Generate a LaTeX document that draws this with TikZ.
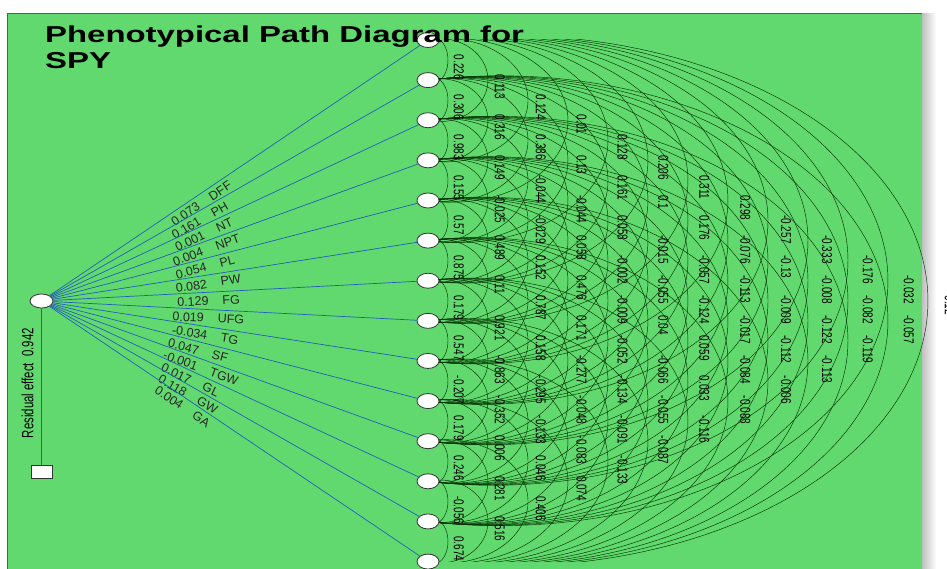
\documentclass[tikz,border=0pt]{standalone}
\usepackage{fontspec}
\setmainfont{Liberation Sans}
\usetikzlibrary{shapes.geometric}
\pgfdeclarelayer{back}
\pgfdeclarelayer{arcs}
\pgfsetlayers{back,arcs,main}
\definecolor{bggreen}{RGB}{98,217,110}
\definecolor{pathblue}{RGB}{35,95,185}
\definecolor{framegray}{RGB}{90,90,90}
\newcommand{\corrcol}[2]{%
  \foreach \v [count=\i] in {#2} {%
    \node[corr] (c#1x\i) at ({418+40.9*#1},{40+40.12*(\i-1)+20.06*#1-5.5}) {\scalebox{1}[1.43]{\v}};
  }}
\begin{document}
\begin{tikzpicture}[x=1pt,y=-1pt,
  rnode/.style={ellipse,draw=black!80,fill=white,line width=0.8pt,minimum width=22pt,minimum height=15pt,inner sep=0pt},
  lnode/.style={ellipse,draw=black!80,fill=white,line width=0.8pt,minimum width=23pt,minimum height=14pt,inner sep=0pt},
  sqnode/.style={rectangle,draw=black!80,fill=white,line width=0.8pt,minimum width=21pt,minimum height=13pt,inner sep=0pt},
  pathline/.style={draw=pathblue,line width=0.7pt},
  arcline/.style={draw=black!80!green,line width=0.45pt},
  corr/.style={anchor=west,rotate=-90,inner sep=0pt,font=\fontsize{10}{10}\selectfont,text=black},
  plab/.style={inner sep=0pt,font=\fontsize{12.5}{13}\selectfont,text=black!85},
  titlefont/.style={inner sep=0pt,font=\fontsize{23}{23}\selectfont\bfseries,text=black}]
\useasboundingbox (0,0) rectangle (947,569);
\begin{pgfonlayer}{back}
  \fill[white] (0,0) rectangle (947,569);
  \shade[left color=black!25,right color=white] (922,14) rectangle (936,569);
  \fill[bggreen] (7,14) rectangle (922,575);
  \draw[framegray,line width=1pt] (7,575) -- (7,14) -- (922,14);
\end{pgfonlayer}
% right-hand trait nodes
\foreach \i in {1,...,14}
  \node[rnode] (n\i) at (428,{40+40.12*(\i-1)}) {};
% left node and residual
\node[lnode] (L) at (41.5,301) {};
\node[sqnode] (S) at (41.5,471.5) {};
\draw[pathline] (L) -- (S);
\node[rotate=90,inner sep=0pt,font=\fontsize{11.4}{12}\selectfont,text=black] (res) at (27.5,383) {\scalebox{1}[1.43]{Residual effect\ \ 0.942}};
% path lines and labels
\foreach \num/\nm/\p [count=\i] in {0.073/DFF/0.397,0.161/PH/0.394,0.001/NT/0.406,0.004/NPT/0.414,0.054/PL/0.413,0.082/PW/0.423,0.129/FG/0.426,0.019/UFG/0.428,-0.034/TG/0.422,0.047/SF/0.405,-0.001/TGW/0.415,0.017/GL/0.389,0.118/GW/0.385,0.004/GA/0.372}{
  \draw[pathline] (L) -- (n\i);
  \path (L) -- (n\i) node[plab,pos=\p,sloped,below=4pt] (pl\i) {\num\hspace{14pt}\nm};
}
% correlation arcs: elliptic arcs from node i to node i+k, clipped to the node range
\begin{pgfonlayer}{arcs}
\begin{scope}
  \clip (0,40) rectangle (947,561.56);
  \foreach \k in {1,...,13} {
    \pgfmathsetmacro{\sag}{0.4*\k-0.2}
    \pgfmathsetmacro{\hh}{0.2006*\k}
    \pgfmathsetmacro{\sh}{0.06*\k}
    \pgfmathsetmacro{\ax}{\sag-\sh}
    \pgfmathsetmacro{\by}{\hh/sqrt(1-(\sh/\ax)^2)}
    \pgfmathsetmacro{\ang}{atan2(\hh/\by,-\sh/\ax)}
    \pgfmathsetmacro{\axpx}{100*\ax}
    \pgfmathsetmacro{\bypx}{100*\by}
    \pgfmathtruncatemacro{\last}{14-\k}
    \foreach \i in {1,...,\last} {
      \pgfmathtruncatemacro{\j}{\i+\k}
      \draw[arcline] (n\i.center) arc[start angle=-\ang,end angle=\ang,x radius=\axpx,y radius=\bypx] -- (n\j.center);
    }
  }
\end{scope}
\end{pgfonlayer}
% correlation values
\corrcol{1}{0.226,0.306,0.983,0.155,0.57,0.875,0.179,0.547,-0.207,0.179,0.246,-0.056,0.674}
\corrcol{2}{0.113,0.316,0.149,-0.025,0.489,0.11,0.921,-0.863,-0.352,0.006,0.281,0.516}
\corrcol{3}{0.124,0.386,-0.044,-0.029,0.152,0.787,0.158,-0.295,-0.133,0.046,0.406}
\corrcol{4}{0.01,0.13,-0.044,0.058,0.476,0.171,-0.277,-0.048,-0.083,0.074}
\corrcol{5}{0.128,0.161,0.058,-0.002,-0.009,-0.052,-0.134,-0.091,-0.133}
\corrcol{6}{0.206,0.1,-0.015,-0.055,0.04,-0.066,-0.055,-0.087}
\corrcol{7}{0.311,0.176,-0.057,-0.124,0.059,0.033,-0.116}
\corrcol{8}{0.298,-0.076,-0.113,-0.017,-0.084,-0.088}
\corrcol{9}{-0.257,-0.13,-0.009,-0.112,-0.006}
\corrcol{10}{-0.333,-0.008,-0.122,-0.113}
\corrcol{11}{-0.176,-0.082,-0.119}
\corrcol{12}{-0.032,-0.057}
\corrcol{13}{0.12}
% title
\node[titlefont,anchor=base west] (t1) at (45,43) {\scalebox{1.43}[1]{Phenotypical Path Diagram for}};
\node[titlefont,anchor=base west] (t2) at (45,69) {\scalebox{1.43}[1]{SPY}};
\end{tikzpicture}
\end{document}
